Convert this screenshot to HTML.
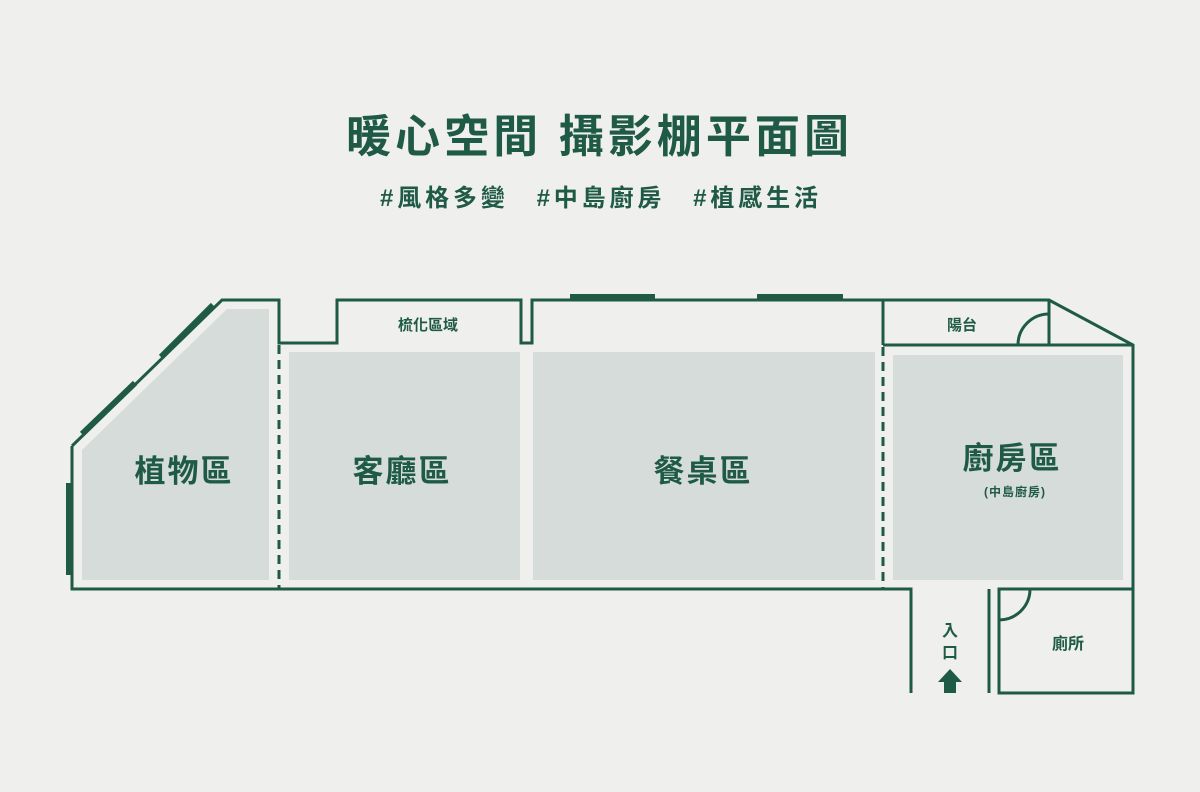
<!DOCTYPE html>
<html><head><meta charset="utf-8"><style>
html,body{margin:0;padding:0;background:#efefed;}
svg{display:block}
text{font-family:"Liberation Sans","Noto Sans CJK TC",sans-serif;fill:#1f5a47;}
</style></head><body>
<svg width="1200" height="792" viewBox="0 0 1200 792" xmlns="http://www.w3.org/2000/svg">
<rect width="1200" height="792" fill="#efefed"/>
<text x="346" y="152" font-size="45" font-weight="700" textLength="503" lengthAdjust="spacing">暖心空間 攝影棚平面圖</text>
<text x="380" y="206" font-size="24" font-weight="700" textLength="438" lengthAdjust="spacing">#風格多變　#中島廚房　#植感生活</text>

<g fill="#d6dcda">
<polygon points="227,309 269,309 269,580 82,580 82,450"/>
<rect x="289" y="352" width="231" height="228"/>
<rect x="533" y="352" width="342" height="228"/>
<rect x="893" y="355" width="230" height="225"/>
</g>

<g fill="none" stroke="#1f5a47" stroke-width="3" stroke-linejoin="miter">
<polyline points="72,446 222,300 279,300 279,343 337,343 337,300 521,300 521,343 532,343 532,300 1049,300 1133,345 1133,589 999,589 999,693 1133,693 1133,589"/>
<polyline points="72,446 72,589 911,589 911,693"/>
<line x1="989" y1="589" x2="989" y2="693"/>
<line x1="883" y1="300" x2="883" y2="345"/>
<line x1="883" y1="345" x2="1133" y2="345"/>
<line x1="1049" y1="300" x2="1049" y2="345"/>
<path d="M1018,345 A31,31 0 0 1 1049,314"/>
<path d="M1030,589 A31,31 0 0 1 999,620"/>
<line x1="279" y1="345" x2="279" y2="589" stroke-dasharray="9,6"/>
<line x1="883" y1="347" x2="883" y2="589" stroke-dasharray="9,6"/>
</g>
<g stroke="#1f5a47" stroke-width="6">
<line x1="69" y1="483" x2="69" y2="575"/>
<line x1="82" y1="434" x2="135" y2="383"/>
<line x1="161" y1="357" x2="213" y2="305"/>
<line x1="570" y1="297" x2="655" y2="297"/>
<line x1="757" y1="297" x2="843" y2="297"/>
</g>

<g font-weight="700" text-anchor="middle">
<text x="184" y="482" font-size="31" letter-spacing="2">植物區</text>
<text x="402" y="482" font-size="31" letter-spacing="2">客廳區</text>
<text x="703" y="482" font-size="31" letter-spacing="2">餐桌區</text>
<text x="1012" y="469" font-size="31" letter-spacing="2">廚房區</text>
<text x="1015" y="496" font-size="12" letter-spacing="1">(中島廚房)</text>
<text x="428" y="330" font-size="15">梳化區域</text>
<text x="962" y="330" font-size="15">陽台</text>
<text x="1068" y="649" font-size="16">廁所</text>
<text x="950" y="636" font-size="16">入</text>
<text x="950" y="658" font-size="16">口</text>
</g>
<polygon points="950,669 938,682 944,682 944,693 956,693 956,682 962,682" fill="#1f5a47"/>
</svg>
</body></html>
